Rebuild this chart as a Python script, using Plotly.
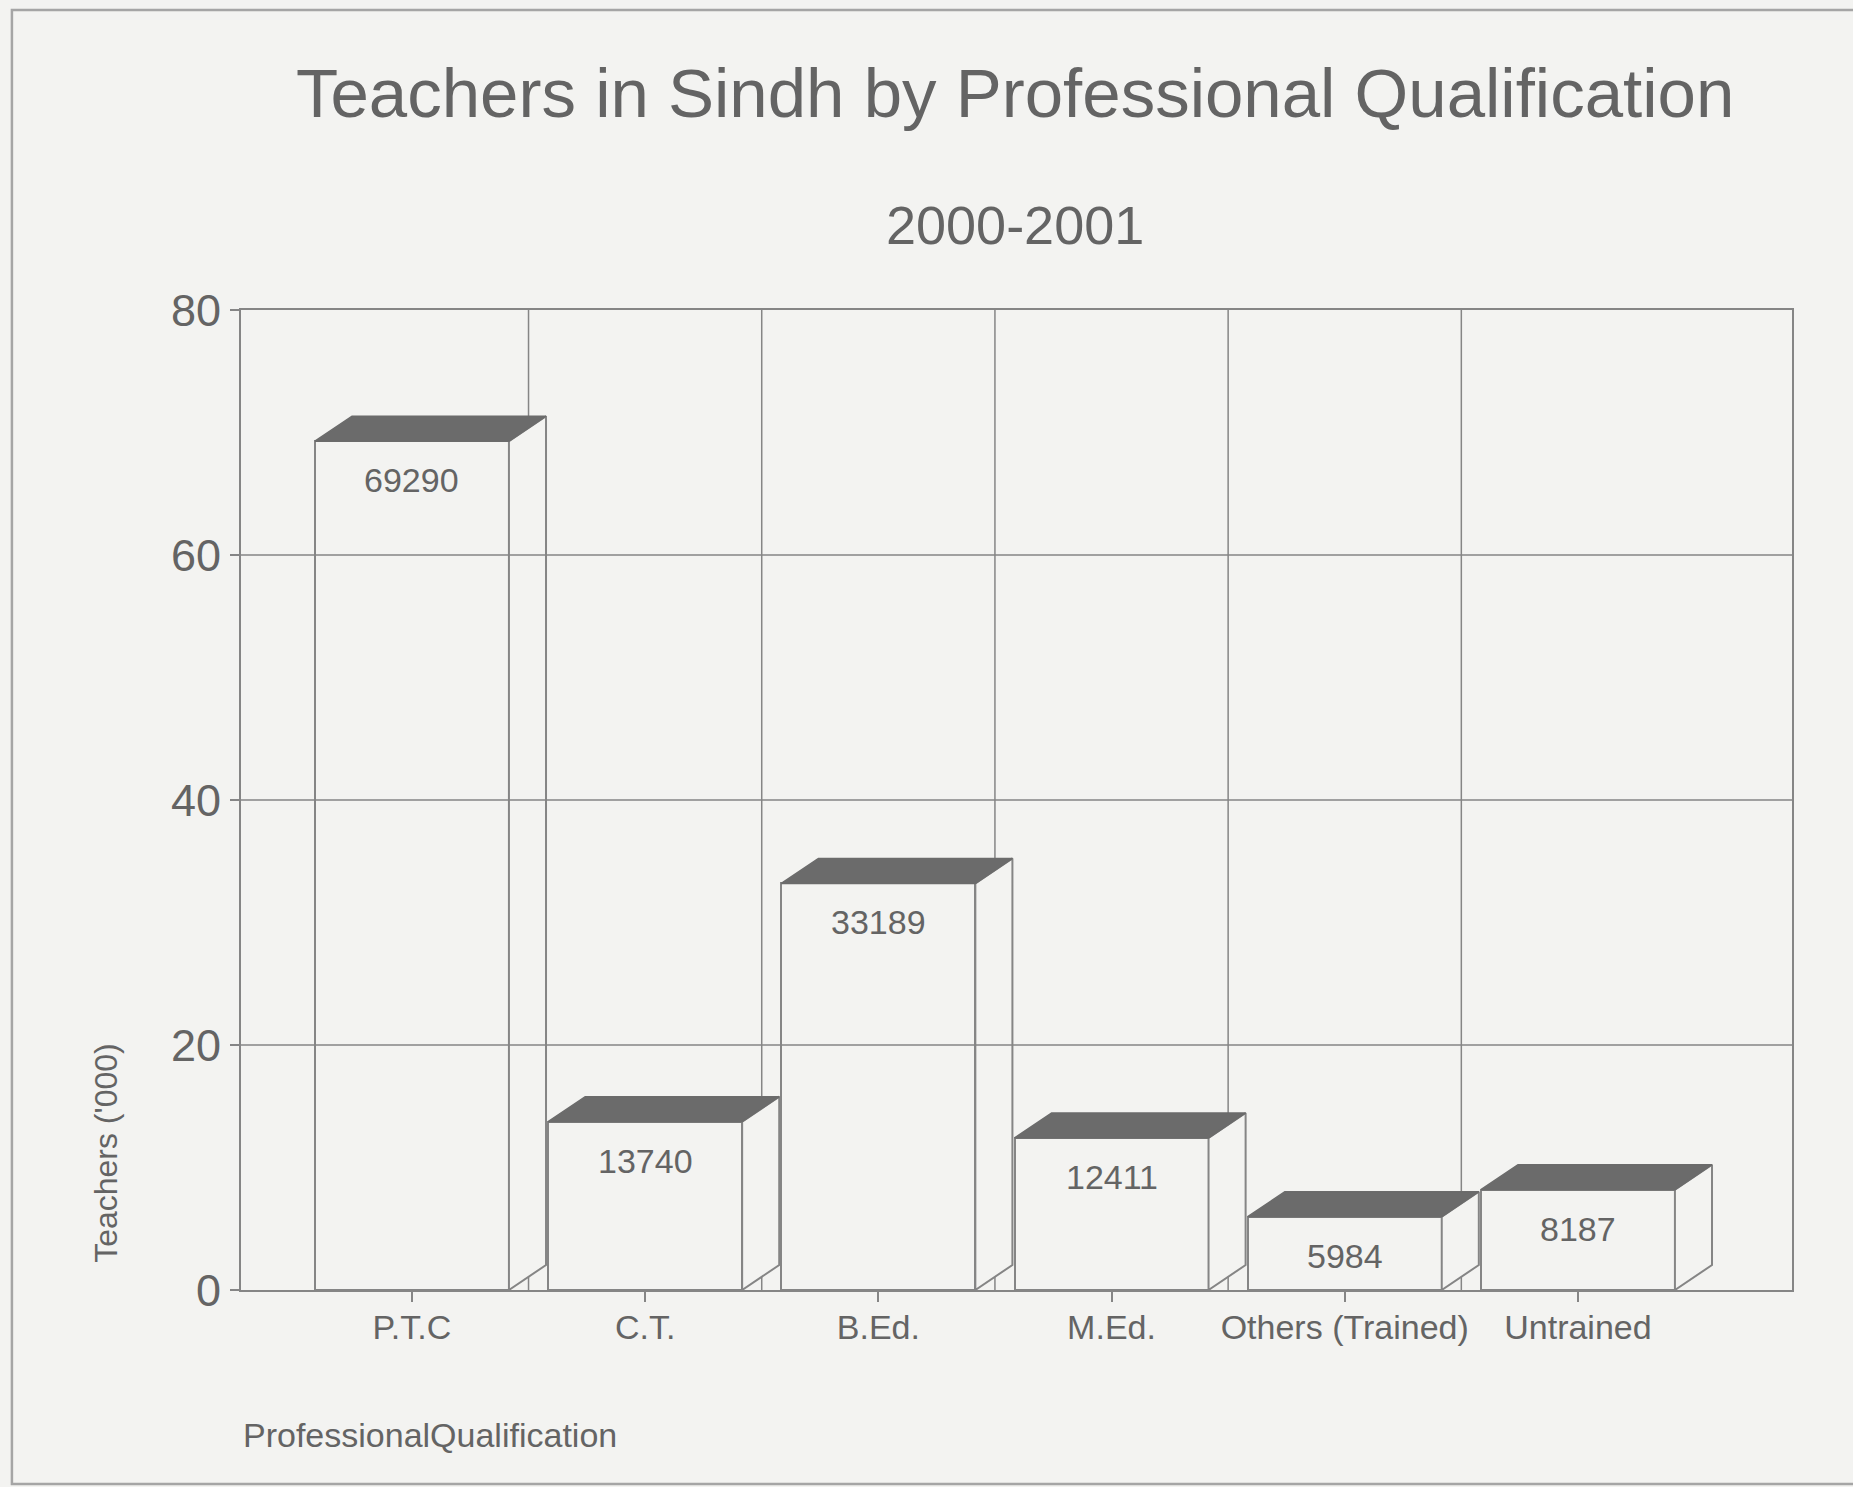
import plotly.graph_objects as go

# Teachers in Sindh, 2000-2001, by professional qualification
categories = ["P.T.C", "C.T.", "B.Ed.", "M.Ed.", "Others (Trained)", "Untrained"]
teachers = [69290, 13740, 33189, 12411, 5984, 8187]
y_ticks = [0, 20, 40, 60, 80]

values_k = [v / 1000 for v in teachers]   # plotted in thousands
xpos = list(range(len(categories)))

BG = "#f3f3f1"
LINE = "#858585"
TOP = "#6b6b6b"
TEXT = "#646464"
FONT = "Liberation Sans, Arial, Helvetica, sans-serif"

BAR_W = 0.832      # front face width (category units)
DX = 0.159         # depth offset along x (category units)
DY = 2.04          # depth offset along y (thousands)

fig = go.Figure()

# front faces
fig.add_trace(go.Bar(
    x=xpos, y=values_k, width=BAR_W,
    marker=dict(color=BG, line=dict(color=LINE, width=2)),
    hoverinfo="skip",
))

# side and top faces for the 3-D look
half = BAR_W / 2
for x, v in zip(xpos, values_k):
    x0, x1 = x - half, x + half
    fig.add_trace(go.Scatter(
        x=[x1, x1, x1 + DX, x1 + DX, x1],
        y=[0, v, v + DY, DY, 0],
        mode="lines", fill="toself", fillcolor=BG,
        line=dict(color=LINE, width=2), hoverinfo="skip",
    ))
    fig.add_trace(go.Scatter(
        x=[x0, x1, x1 + DX, x0 + DX, x0],
        y=[v, v, v + DY, v + DY, v],
        mode="lines", fill="toself", fillcolor=TOP,
        line=dict(color=TOP, width=1.5), hoverinfo="skip",
    ))

# value labels inside the front faces
for x, v, raw in zip(xpos, values_k, teachers):
    fig.add_annotation(x=x, y=v, yshift=-39, text=str(raw), showarrow=False,
                       font=dict(size=34, color=TEXT), xanchor="center", yanchor="middle")

shapes = []
# vertical grid lines between categories (hidden behind the bars)
for i in range(len(categories) - 1):
    shapes.append(dict(type="line", xref="x", yref="y", x0=i + 0.5, x1=i + 0.5,
                       y0=0, y1=80, line=dict(color=LINE, width=1.5), layer="below"))
# horizontal grid lines run across the bars
for t in y_ticks[1:-1]:
    shapes.append(dict(type="line", xref="paper", yref="y", x0=0, x1=1,
                       y0=t, y1=t, line=dict(color=LINE, width=1.5), layer="above"))
# outer frame
shapes.append(dict(type="rect", xref="paper", yref="paper",
                   x0=-0.1477, x1=1.05, y0=-0.198, y1=1.306,
                   line=dict(color="#a5a5a5", width=2.5), layer="below"))

fig.update_layout(
    width=1853, height=1487,
    margin=dict(l=241, r=61, t=310, b=197),
    paper_bgcolor=BG, plot_bgcolor=BG,
    showlegend=False, bargap=0,
    font=dict(family=FONT, color=TEXT),
    shapes=shapes,
    xaxis=dict(
        range=[-0.733, 5.918], tickmode="array", tickvals=xpos, ticktext=categories,
        ticks="outside", ticklen=10, tickwidth=1.5, tickcolor=LINE,
        ticklabelstandoff=-4,
        showline=True, linecolor=LINE, linewidth=2, mirror=True,
        showgrid=False, zeroline=False, tickfont=dict(size=34, color=TEXT),
    ),
    yaxis=dict(
        range=[0, 80], tickmode="array", tickvals=y_ticks,
        ticks="outside", ticklen=9, tickwidth=1.5, tickcolor=LINE,
        showline=True, linecolor=LINE, linewidth=2, mirror=True,
        showgrid=False, zeroline=False,
        tickfont=dict(size=45, color=TEXT),
    ),
)

fig.add_annotation(text="Teachers in Sindh by Professional Qualification",
                   xref="paper", yref="paper", x=0.499, y=1.2214,
                   xanchor="center", yanchor="middle", showarrow=False,
                   font=dict(size=69, color=TEXT))
fig.add_annotation(text="2000-2001", xref="paper", yref="paper", x=0.499, y=1.0867,
                   xanchor="center", yanchor="middle", showarrow=False,
                   font=dict(size=54, color=TEXT))
fig.add_annotation(text="Teachers ('000)", xref="paper", yref="paper", x=-0.087, y=0.140,
                   textangle=-90, xanchor="center", yanchor="middle", showarrow=False,
                   font=dict(size=32, color=TEXT))
fig.add_annotation(text="ProfessionalQualification", xref="paper", yref="paper",
                   x=0.0, y=-0.148, xanchor="left", yanchor="middle", showarrow=False,
                   font=dict(size=34, color=TEXT))

fig.write_html("out.html")
